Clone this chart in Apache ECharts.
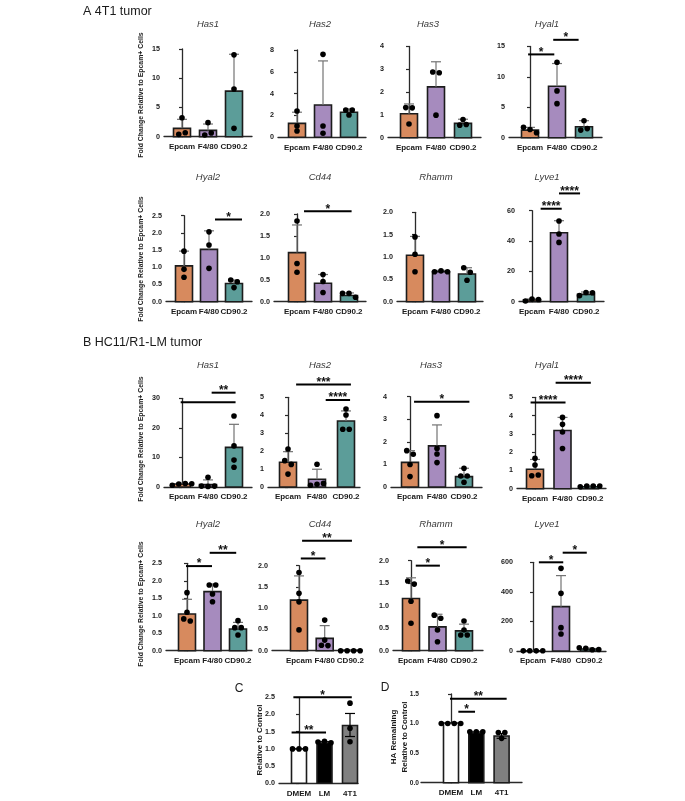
<!DOCTYPE html>
<html><head><meta charset="utf-8">
<script src="https://cdn.jsdelivr.net/npm/echarts@6/dist/echarts.min.js"></script>
<style>html,body{margin:0;padding:0;background:#fff}#c{width:685px;height:801px}</style>
</head><body><div id="c"></div>
<script>
// ---------------- DATA ----------------
const CATS = ['Epcam', 'F4/80', 'CD90.2'];
const CATS_CD = ['DMEM', 'LM', '4T1'];

// Panel A – 4T1 tumor
const A_Has1_mean = [1.43, 1.08, 7.8];
const A_Has1_upper = [2.97, 2.17, 14.1];
const A_Has1_pts = [[0.4, 3.25, 0.68], [0.29, 2.4, 0.63], [14.0, 8.15, 1.43]];
const A_Has1_axis = [0, 15, 5];
const A_Has1_sig = [];

const A_Has2_mean = [1.28, 2.96, 2.29];
const A_Has2_upper = [2.3, 7.0, 2.6];
const A_Has2_pts = [[2.41, 1.04, 0.58], [7.6, 1.04, 0.37], [2.5, 2.5, 2.05]];
const A_Has2_axis = [0, 8, 2];
const A_Has2_sig = [];

const A_Has3_mean = [1.05, 2.23, 0.63];
const A_Has3_upper = [1.48, 3.33, 0.81];
const A_Has3_pts = [[1.32, 1.31, 0.6], [2.88, 2.85, 0.99], [0.8, 0.55, 0.58]];
const A_Has3_axis = [0, 4, 1];
const A_Has3_sig = [];

const A_Hyal1_mean = [1.25, 8.46, 1.8];
const A_Hyal1_upper = [1.7, 12.2, 2.8];
const A_Hyal1_pts = [[1.7, 1.36, 0.82], [12.4, 7.7, 5.6], [2.8, 1.25, 1.5]];
const A_Hyal1_axis = [0, 15, 5];
const A_Hyal1_sig = [[-0.07, 0.9, 13.7, '*'], [0.86, 1.8, 16.1, '*']];

const A_Hyal2_mean = [1.04, 1.52, 0.53];
const A_Hyal2_upper = [1.47, 2.06, 0.63];
const A_Hyal2_pts = [[1.47, 0.94, 0.71], [2.03, 1.65, 0.97], [0.63, 0.58, 0.41]];
const A_Hyal2_axis = [0, 2.5, 0.5];
const A_Hyal2_sig = [[1.24, 2.32, 2.39, '*']];

const A_Cd44_mean = [1.12, 0.42, 0.14];
const A_Cd44_upper = [1.75, 0.62, 0.2];
const A_Cd44_pts = [[1.84, 0.87, 0.67], [0.62, 0.46, 0.21], [0.19, 0.19, 0.1]];
const A_Cd44_axis = [0, 2, 0.5];
const A_Cd44_sig = [[0.27, 2.1, 2.06, '*']];

const A_Rhamm_mean = [1.04, 0.67, 0.62];
const A_Rhamm_upper = [1.46, 0.7, 0.76];
const A_Rhamm_pts = [[1.45, 1.06, 0.67], [0.67, 0.69, 0.67], [0.76, 0.66, 0.48]];
const A_Rhamm_axis = [0, 2, 0.5];
const A_Rhamm_sig = [];

const A_Lyve1_mean = [1.2, 45.5, 4.8];
const A_Lyve1_upper = [1.8, 53.4, 6.4];
const A_Lyve1_pts = [[0.5, 1.7, 1.5], [53.2, 44.6, 39.1], [4.0, 6.1, 5.9]];
const A_Lyve1_axis = [0, 60, 20];
const A_Lyve1_sig = [[0.32, 1.1, 61.3, '****'], [1.0, 1.78, 71.4, '****']];

// Panel B – HC11/R1-LM tumor
const B_Has1_mean = [1.0, 0.8, 13.4];
const B_Has1_upper = [1.3, 2.4, 21.2];
const B_Has1_pts = [[0.6, 1.0, 1.2, 1.1], [3.3, 0.3, 0.2, 0.3], [24.0, 13.9, 9.1, 6.7]];
const B_Has1_axis = [0, 30, 10];
const B_Has1_sig = [[1.14, 2.06, 31.9, '**'], [-0.05, 2.06, 28.7, '']];

const B_Has2_mean = [1.38, 0.43, 3.68];
const B_Has2_upper = [1.97, 0.99, 4.24];
const B_Has2_pts = [[2.12, 1.47, 1.26, 0.72], [1.27, 0.1, 0.15, 0.2], [4.35, 4.01, 3.22, 3.22]];
const B_Has2_axis = [0, 5, 1];
const B_Has2_sig = [[1.3, 2.14, 4.85, '****'], [0.28, 2.17, 5.72, '***']];

const B_Has3_mean = [1.09, 1.82, 0.46];
const B_Has3_upper = [1.61, 2.75, 0.83];
const B_Has3_pts = [[1.61, 1.45, 1.0, 0.46], [3.16, 1.71, 1.46, 1.08], [0.83, 0.49, 0.49, 0.21]];
const B_Has3_axis = [0, 4, 1];
const B_Has3_sig = [[0.15, 2.2, 3.78, '*']];

const B_Hyal1_mean = [1.06, 3.18, 0.11];
const B_Hyal1_upper = [1.6, 3.9, 0.15];
const B_Hyal1_pts = [[1.66, 1.3, 0.71, 0.75], [3.9, 3.52, 3.1, 2.2], [0.1, 0.15, 0.15, 0.15]];
const B_Hyal1_axis = [0, 5, 1];
const B_Hyal1_sig = [[-0.16, 1.11, 4.71, '****'], [0.75, 2.03, 5.8, '****']];

const B_Hyal2_mean = [1.05, 1.69, 0.62];
const B_Hyal2_upper = [1.47, 1.91, 0.81];
const B_Hyal2_pts = [[1.66, 1.1, 0.91, 0.85], [1.88, 1.88, 1.62, 1.4], [0.86, 0.66, 0.66, 0.45]];
const B_Hyal2_axis = [0, 2.5, 0.5];
const B_Hyal2_sig = [[-0.04, 0.98, 2.42, '*'], [0.89, 1.93, 2.8, '**']];

const B_Cd44_mean = [1.19, 0.29, 0.01];
const B_Cd44_upper = [1.76, 0.59, 0.02];
const B_Cd44_pts = [[1.84, 1.35, 1.15, 0.49], [0.72, 0.13, 0.12, 0.25], [0, 0, 0, 0]];
const B_Cd44_axis = [0, 2, 0.5];
const B_Cd44_sig = [[0.07, 1.03, 2.17, '*'], [0.12, 2.06, 2.59, '**']];

const B_Rhamm_mean = [1.16, 0.53, 0.44];
const B_Rhamm_upper = [1.62, 0.81, 0.59];
const B_Rhamm_pts = [[1.55, 1.48, 1.1, 0.61], [0.79, 0.72, 0.46, 0.2], [0.66, 0.46, 0.35, 0.35]];
const B_Rhamm_axis = [0, 2, 0.5];
const B_Rhamm_sig = [[0.18, 1.09, 1.89, '*'], [0.24, 2.1, 2.3, '*']];

const B_Lyve1_mean = [1.5, 300, 14];
const B_Lyve1_upper = [2, 510, 20];
const B_Lyve1_pts = [[1, 2, 1, 2], [559, 390, 158, 115], [22, 18, 8, 10]];
const B_Lyve1_axis = [0, 600, 200];
const B_Lyve1_sig = [[0.21, 1.08, 600, '*'], [1.06, 1.92, 665, '*']];

// Panel C and D
const C_mean = [1.0, 1.17, 1.68];
const C_upper = [1.0, 1.21, 2.03];
const C_lower = [1.0, 1.14, 1.36];
const C_pts = [[1, 1, 1], [1.2, 1.22, 1.18], [2.33, 1.6, 1.21]];
const C_axis = [0, 2.5, 0.5];
const C_sig = [[-0.29, 1.06, 1.48, '**'], [-0.22, 2.07, 2.5, '*']];

const D_mean = [1.01, 0.84, 0.79];
const D_upper = [1.01, 0.86, 0.83];
const D_lower = [1.01, 0.82, 0.75];
const D_pts = [[1, 1, 1, 1], [0.86, 0.86, 0.86], [0.85, 0.85, 0.75]];
const D_axis = [0, 1.5, 0.5];
const D_sig = [[0.29, 0.95, 1.2, '*'], [-0.04, 2.2, 1.42, '**']];

// ---------------- STYLE / LAYOUT ----------------
const FONT = '"Liberation Sans", Arial, Helvetica, sans-serif';
const CELL_COLORS = ['#D78A5E', '#A68BBE', '#5C9D99'];
const CD_COLORS = ['#FFFFFF', '#000000', '#808080'];

function P(title, tx, ty, left, c0, sp, end, top, bottom, mean, upper, lower, pts, axis, sig, cats, colors, bw, errColor, lm, lf) {
  return {title, tx, ty, left, c0, sp, end, top, bottom, mean, upper, lower, pts, axis, sig, cats, colors, bw, errColor, lm, lf};
}
const E = '#737373';
const panels = [
  P('Has1', 208, 24, 164, 182, 26, 252, 49, 136.7, A_Has1_mean, A_Has1_upper, null, A_Has1_pts, A_Has1_axis, A_Has1_sig, CATS, CELL_COLORS, 17, E, 4, 7.2),
  P('Has2', 320, 24, 278, 297, 26, 366, 50, 137.3, A_Has2_mean, A_Has2_upper, null, A_Has2_pts, A_Has2_axis, A_Has2_sig, CATS, CELL_COLORS, 17, E, 4, 7.2),
  P('Has3', 428, 24, 388, 409, 27, 481, 46.5, 137.7, A_Has3_mean, A_Has3_upper, null, A_Has3_pts, A_Has3_axis, A_Has3_sig, CATS, CELL_COLORS, 17, E, 4, 7.2),
  P('Hyal1', 547, 24, 509, 530, 27, 602, 46.5, 137.7, A_Hyal1_mean, A_Hyal1_upper, null, A_Hyal1_pts, A_Hyal1_axis, A_Hyal1_sig, CATS, CELL_COLORS, 17, E, 4, 7.2),
  P('Hyal2', 208, 177, 166, 184, 25, 252, 215.7, 301.7, A_Hyal2_mean, A_Hyal2_upper, null, A_Hyal2_pts, A_Hyal2_axis, A_Hyal2_sig, CATS, CELL_COLORS, 17, E, 4, 7.2),
  P('Cd44', 320, 177, 274, 297, 26, 366, 214, 301.7, A_Cd44_mean, A_Cd44_upper, null, A_Cd44_pts, A_Cd44_axis, A_Cd44_sig, CATS, CELL_COLORS, 17, E, 4, 7.2),
  P('Rhamm', 436, 177, 397, 415, 26, 483, 212.3, 301.7, A_Rhamm_mean, A_Rhamm_upper, null, A_Rhamm_pts, A_Rhamm_axis, A_Rhamm_sig, CATS, CELL_COLORS, 17, E, 4, 7.2),
  P('Lyve1', 547, 177, 519, 532, 27, 604, 210.7, 301.7, A_Lyve1_mean, A_Lyve1_upper, null, A_Lyve1_pts, A_Lyve1_axis, A_Lyve1_sig, CATS, CELL_COLORS, 17, E, 4, 7.2),
  P('Has1', 208, 365, 164, 182, 26, 252, 398.3, 487, B_Has1_mean, B_Has1_upper, null, B_Has1_pts, B_Has1_axis, B_Has1_sig, CATS, CELL_COLORS, 17, E, 4, 7.2),
  P('Has2', 320, 365, 268, 288, 29, 360, 397.3, 487, B_Has2_mean, B_Has2_upper, null, B_Has2_pts, B_Has2_axis, B_Has2_sig, CATS, CELL_COLORS, 17, E, 4, 7.2),
  P('Has3', 431, 365, 391, 410, 27, 482, 396.7, 487, B_Has3_mean, B_Has3_upper, null, B_Has3_pts, B_Has3_axis, B_Has3_sig, CATS, CELL_COLORS, 17, E, 4, 7.2),
  P('Hyal1', 547, 365, 517, 535, 27.5, 606, 397.3, 488.7, B_Hyal1_mean, B_Hyal1_upper, null, B_Hyal1_pts, B_Hyal1_axis, B_Hyal1_sig, CATS, CELL_COLORS, 17, E, 4, 7.2),
  P('Hyal2', 208, 524, 166, 187, 25.5, 252, 563.3, 650.7, B_Hyal2_mean, B_Hyal2_upper, null, B_Hyal2_pts, B_Hyal2_axis, B_Hyal2_sig, CATS, CELL_COLORS, 17, E, 4, 7.2),
  P('Cd44', 320, 524, 272, 299, 25.7, 362, 565.7, 650.7, B_Cd44_mean, B_Cd44_upper, null, B_Cd44_pts, B_Cd44_axis, B_Cd44_sig, CATS, CELL_COLORS, 17, E, 4, 7.2),
  P('Rhamm', 436, 524, 393, 411, 26.5, 483, 560.7, 650.7, B_Rhamm_mean, B_Rhamm_upper, null, B_Rhamm_pts, B_Rhamm_axis, B_Rhamm_sig, CATS, CELL_COLORS, 17, E, 4, 7.2),
  P('Lyve1', 547, 524, 517, 533, 28, 606, 562.3, 651, B_Lyve1_mean, B_Lyve1_upper, null, B_Lyve1_pts, B_Lyve1_axis, B_Lyve1_sig, CATS, CELL_COLORS, 17, E, 4, 7.2),
  P('', 0, 0, 279, 299, 25.5, 358, 697.3, 783.3, C_mean, C_upper, C_lower, C_pts, C_axis, C_sig, CATS_CD, CD_COLORS, 15, '#000', 4, 7.2),
  P('', 0, 0, 421, 451, 25.3, 522, 694, 782.7, D_mean, D_upper, D_lower, D_pts, D_axis, D_sig, CATS_CD, CD_COLORS, 15, '#000', 2, 6.6)
];

// ---------------- BUILD ----------------
const grid = [], xAxis = [], yAxis = [], series = [], graphic = [];
const axisColor = '#2a2a2a';

panels.forEach((p, i) => {
  const xmin = -(p.c0 - p.left) / p.sp;
  const xmax = (p.end - p.c0) / p.sp;
  grid.push({left: p.left, top: p.top, width: p.end - p.left, height: p.bottom - p.top});
  xAxis.push({
    gridIndex: i, type: 'value', min: xmin, max: xmax,
    axisLine: {show: true, onZero: false, lineStyle: {color: axisColor, width: 1.3}},
    axisTick: {show: false}, splitLine: {show: false}, axisLabel: {show: false}
  });
  const [ymin, ymax, step] = p.axis;
  yAxis.push({
    gridIndex: i, type: 'value', min: ymin, max: ymax, interval: step,
    axisLine: {show: true, lineStyle: {color: axisColor, width: 1.3}},
    axisTick: {show: true, length: 3, lineStyle: {color: axisColor, width: 1.2}},
    splitLine: {show: false},
    axisLabel: {formatter: v => step < 1 ? v.toFixed(1) : String(v),
      fontFamily: FONT, fontWeight: 'bold', fontSize: p.lf, color: '#1a1a1a', margin: p.lm}
  });

  // bars + error bars + category labels
  series.push({
    type: 'custom', xAxisIndex: i, yAxisIndex: i, z: 2, clip: false,
    data: p.mean.map((m, k) => [k, m, p.upper[k], p.lower ? p.lower[k] : m]),
    encode: {x: 0, y: 1},
    renderItem: (params, api) => {
      const k = api.value(0), m = api.value(1), up = api.value(2), lo = api.value(3);
      const p0 = api.coord([k, 0]), pm = api.coord([k, m]), pu = api.coord([k, up]), pl = api.coord([k, lo]);
      const ch = [{type: 'rect', shape: {x: p0[0] - p.bw / 2, y: pm[1], width: p.bw, height: Math.max(p0[1] - pm[1], 0)},
        style: {fill: p.colors[k], stroke: '#1c1c1c', lineWidth: 1.6}}];
      const ls = {stroke: p.errColor, lineWidth: 1.2};
      if (up > m) {
        ch.push({type: 'line', shape: {x1: pm[0], y1: pm[1], x2: pu[0], y2: pu[1]}, style: ls});
        ch.push({type: 'line', shape: {x1: pu[0] - 5, y1: pu[1], x2: pu[0] + 5, y2: pu[1]}, style: ls});
      }
      if (lo < m) {
        ch.push({type: 'line', shape: {x1: pm[0], y1: pm[1], x2: pl[0], y2: pl[1]}, style: ls});
        ch.push({type: 'line', shape: {x1: pl[0] - 5, y1: pl[1], x2: pl[0] + 5, y2: pl[1]}, style: ls});
      }
      ch.push({type: 'text', style: {text: p.cats[k], x: p0[0], y: p0[1] + 10, align: 'center', verticalAlign: 'middle',
        font: 'bold 8px ' + FONT, fill: '#1a1a1a'}});
      return {type: 'group', children: ch};
    }
  });

  // individual points (spread horizontally when overlapping)
  series.push({
    type: 'custom', xAxisIndex: i, yAxisIndex: i, z: 3,
    data: p.pts.map((arr, k) => [k, Math.max.apply(null, arr)]),
    encode: {x: 0, y: 1},
    renderItem: (params, api) => {
      const k = api.value(0);
      const arr = p.pts[params.dataIndex];
      const pos = arr.map(v => api.coord([k, v]));
      const order = pos.map((q, j) => j).sort((a, b) => pos[a][1] - pos[b][1]);
      const groups = [];
      order.forEach(j => {
        const g = groups[groups.length - 1];
        if (g && Math.abs(pos[j][1] - pos[g[g.length - 1]][1]) < 4.5) g.push(j); else groups.push([j]);
      });
      const ch = [];
      groups.forEach(g => {
        g.sort((a, b) => a - b);
        g.forEach((j, n) => {
          const off = (n - (g.length - 1) / 2) * 6.5;
          ch.push({type: 'circle', shape: {cx: pos[j][0] + off, cy: pos[j][1], r: 2.8}, style: {fill: '#000'}});
        });
      });
      return {type: 'group', children: ch};
    }
  });

  // significance brackets
  if (p.sig.length) {
    series.push({
      type: 'custom', xAxisIndex: i, yAxisIndex: i, z: 4, clip: false,
      data: p.sig.map(s => [s[0], s[2], s[1]]),
      encode: {x: 0, y: 1},
      renderItem: (params, api) => {
        const s = p.sig[params.dataIndex];
        const a = api.coord([s[0], s[2]]), b = api.coord([s[1], s[2]]);
        const ch = [{type: 'line', shape: {x1: a[0], y1: a[1], x2: b[0], y2: b[1]}, style: {stroke: '#000', lineWidth: 2}}];
        if (s[3]) ch.push({type: 'text', style: {text: s[3], x: (a[0] + b[0]) / 2, y: a[1] - 2, align: 'center',
          verticalAlign: 'middle', font: 'bold 12px ' + FONT, fill: '#111'}});
        return {type: 'group', children: ch};
      }
    });
  }

  if (p.title) {
    graphic.push({type: 'text', x: p.tx, y: p.ty, style: {text: p.title, align: 'center', verticalAlign: 'middle',
      font: 'italic 9.5px ' + FONT, fill: '#3a3a3a'}});
  }
});

function vtext(text, x, y, size) {
  graphic.push({type: 'text', x: x, y: y, rotation: Math.PI / 2,
    style: {text: text, align: 'center', verticalAlign: 'middle', font: 'bold ' + size + 'px ' + FONT, fill: '#1a1a1a'}});
}
const YLAB = 'Fold Change Relative to Epcam+ Cells';
vtext(YLAB, 141, 95, 6.9);
vtext(YLAB, 141, 259, 6.9);
vtext(YLAB, 141, 439, 6.9);
vtext(YLAB, 141, 604, 6.9);
vtext('Relative to Control', 260, 740, 8);
vtext('HA Remaining', 394, 737, 8);
vtext('Relative to Control', 405, 737, 8);

graphic.push({type: 'text', x: 83, y: 12, style: {text: 'A 4T1 tumor', align: 'left', verticalAlign: 'middle', font: '12.5px ' + FONT, fill: '#1a1a1a'}});
graphic.push({type: 'text', x: 83, y: 343, style: {text: 'B HC11/R1-LM tumor', align: 'left', verticalAlign: 'middle', font: '12.5px ' + FONT, fill: '#1a1a1a'}});
graphic.push({type: 'text', x: 239, y: 689, style: {text: 'C', align: 'center', verticalAlign: 'middle', font: '12px ' + FONT, fill: '#1a1a1a'}});
graphic.push({type: 'text', x: 385, y: 688, style: {text: 'D', align: 'center', verticalAlign: 'middle', font: '12px ' + FONT, fill: '#1a1a1a'}});

const chart = echarts.init(document.getElementById('c'), null, {renderer: 'canvas', width: 685, height: 801});
chart.setOption({backgroundColor: '#fff', animation: false, grid, xAxis, yAxis, series, graphic});
</script></body></html>
